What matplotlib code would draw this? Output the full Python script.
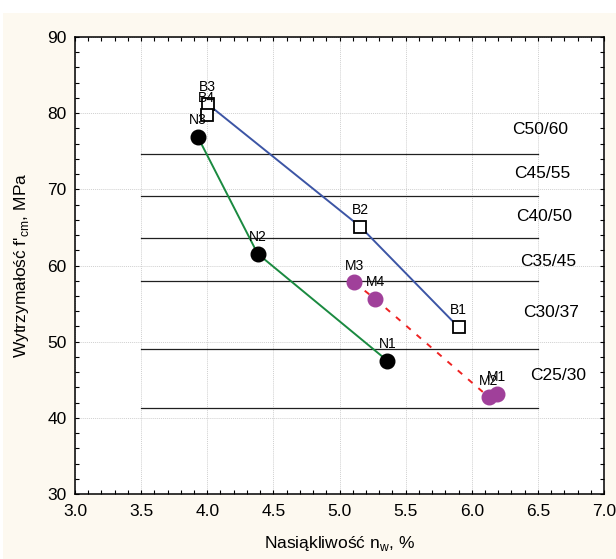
import numpy as np
import matplotlib
matplotlib.use("Agg")
import matplotlib.pyplot as plt
import matplotlib.ticker as mticker
from matplotlib.patches import Rectangle

plt.rcParams['font.family'] = ['Liberation Sans', 'DejaVu Sans']
plt.rcParams['mathtext.fontset'] = 'custom'
plt.rcParams['mathtext.rm'] = 'Liberation Sans'

# --------------------------
# Data
# --------------------------
b_labels = ["B1", "B2", "B3", "B4"]
b_x = [5.90, 5.157, 4.003, 3.996]
b_y = [51.9, 65.1, 81.2, 79.8]

n_labels = ["N1", "N2", "N3"]
n_x = [5.362, 4.381, 3.928]
n_y = [47.5, 61.55, 76.9]

m_labels = ["M1", "M2", "M3", "M4"]
m_x = [6.19, 6.13, 5.11, 5.27]
m_y = [43.1, 42.7, 57.8, 55.6]

# strength class limits and their labels
class_levels = [74.6, 69.1, 63.6, 58.0, 49.1, 41.3]
class_names = ["C50/60", "C45/55", "C40/50", "C35/45", "C30/37", "C25/30"]
class_label_x = [6.52, 6.53, 6.55, 6.58, 6.60, 6.65]
class_label_y = [77.8, 72.1, 66.4, 60.5, 53.8, 45.6]
class_x_range = [3.5, 6.5]

# --------------------------
# Figure
# --------------------------
fig = plt.figure(figsize=(6.16, 5.59), dpi=100, facecolor="white")
fig.patches.append(Rectangle((3/616, 0), 1, 1 - 13/559, transform=fig.transFigure,
                             facecolor="#fdf9f0", edgecolor="none", zorder=-10))
ax = fig.add_axes([75/616, 65/559, 529/616, 457/559])
ax.set_facecolor("white")

ax.set_xlim(3.0, 7.0)
ax.set_ylim(30, 90)
ax.xaxis.set_major_locator(mticker.MultipleLocator(0.5))
ax.xaxis.set_minor_locator(mticker.MultipleLocator(0.1))
ax.yaxis.set_major_locator(mticker.MultipleLocator(10))
ax.yaxis.set_minor_locator(mticker.MultipleLocator(2))
ax.xaxis.set_major_formatter(mticker.FormatStrFormatter("%.1f"))
ax.grid(True, which="major", color="#d0d0d0", linestyle=(0, (1, 1)), linewidth=0.7)
ax.tick_params(which="both", direction="in", top=True, right=True, length=3,
               width=0.8, labelsize=12.5, colors="black")
ax.tick_params(axis="x", pad=7)
ax.tick_params(axis="y", pad=6)
for s in ax.spines.values():
    s.set_linewidth(1.1)

# class lines
for lev in class_levels:
    ax.plot(class_x_range, [lev, lev], color="#202020", linewidth=0.9, zorder=2)
for name, tx, ty in zip(class_names, class_label_x, class_label_y):
    ax.text(tx, ty, name, fontsize=12.5, ha="center", va="center", zorder=3)

# series lines
ax.plot(b_x[:3], b_y[:3], color="#3c55a5", linewidth=1.4, zorder=3)
ax.plot(n_x, n_y, color="#1a8a40", linewidth=1.4, zorder=3)
ax.plot([m_x[2], m_x[3], m_x[1]], [m_y[2], m_y[3], m_y[1]], color="#ee2222",
        linewidth=1.4, linestyle=(0, (3, 4)), zorder=3)

# markers
ax.plot(b_x, b_y, linestyle="none", marker="s", markersize=8.5,
        markerfacecolor="white", markeredgecolor="black", markeredgewidth=1.3, zorder=4)
ax.plot(n_x, n_y, linestyle="none", marker="o", markersize=10.5,
        color="black", zorder=4)
ax.plot(m_x, m_y, linestyle="none", marker="o", markersize=10.5,
        color="#a0409a", zorder=4)

for labels, xs, ys in [(b_labels, b_x, b_y), (n_labels, n_x, n_y), (m_labels, m_x, m_y)]:
    for lab, x, y in zip(labels, xs, ys):
        ax.annotate(lab, (x, y), xytext=(0, 7), textcoords="offset points",
                    ha="center", va="bottom", fontsize=10, zorder=5)

ax.set_xlabel("Nasiąkliwość n$_{\\mathregular{w}}$, %", fontsize=12.5, labelpad=11)
ax.set_ylabel("Wytrzymałość f'$_{\\mathregular{cm}}$, MPa", fontsize=12.5, labelpad=12)

fig.savefig("out.png", dpi=100, facecolor=fig.get_facecolor())
